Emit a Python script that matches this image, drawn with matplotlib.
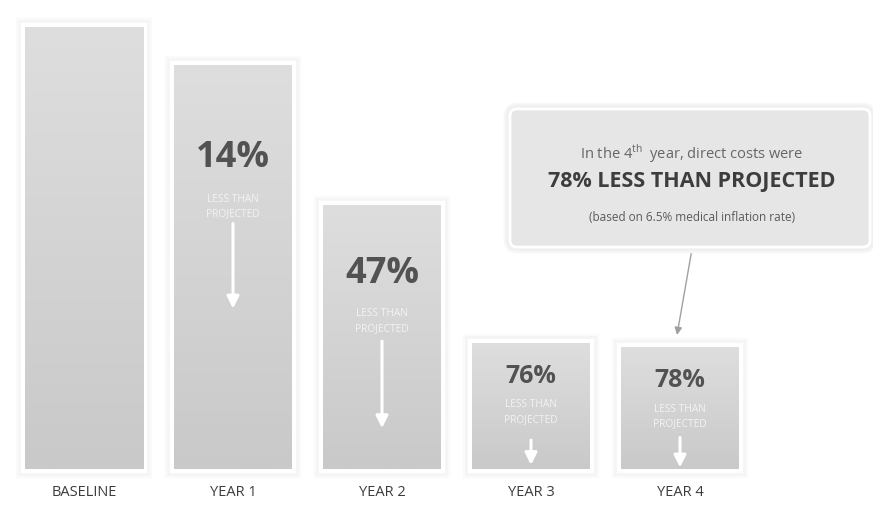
import numpy as np
import matplotlib.pyplot as plt
import matplotlib.patheffects as pe
from matplotlib.colors import LinearSegmentedColormap
from matplotlib.patches import FancyBboxPatch
from matplotlib.transforms import IdentityTransform

plt.rcParams['font.family'] = ['Open Sans', 'DejaVu Sans']
plt.rcParams['mathtext.fontset'] = 'custom'
plt.rcParams['mathtext.rm'] = 'Open Sans'

# direct cost relative to baseline, and the reduction vs projected cost
categories = ["BASELINE", "YEAR 1", "YEAR 2", "YEAR 3", "YEAR 4"]
cost_index = [1.00, 0.915, 0.597, 0.285, 0.275]
pct_less = [None, 14, 47, 76, 78]

# in-bar layout, pixels below each bar top: percent, sub label, arrow start, arrow tip
pct_drop = [None, 92, 68, 32, 32]
sub_drop = [None, 141, 115, 68, 68]
arrow_top = [None, 159, 136, 97, 90]
arrow_tip = [None, 244, 223, 122, 120]
pct_size = [None, 26, 26, 18, 18]

W, H = 873, 506
PX_X = 149.0   # pixels per category
PX_Y = 442.0   # pixels per unit of cost index
X0 = 84        # pixel centre of the first bar

fig = plt.figure(figsize=(W / 100, H / 100), dpi=100)
ax = fig.add_axes([0, 0, 1, 1])
ax.axis('off')

x = np.arange(len(categories))
bars = ax.bar(x, cost_index, width=118 / PX_X, color='#d2d2d2', zorder=2)

# soft glow: several faint strokes, white band closest to the bar
glow = [pe.Stroke(linewidth=13, foreground='#fafafa'),
        pe.Stroke(linewidth=10, foreground='#f5f5f5'),
        pe.Stroke(linewidth=6, foreground='white'),
        pe.Normal()]

grad = np.linspace(0, 1, 256).reshape(-1, 1)
cmap = LinearSegmentedColormap.from_list('bar', ['#c9c9c9', '#dedede'])
for rect in bars:
    rect.set_path_effects(glow)
    x0, w, h = rect.get_x(), rect.get_width(), rect.get_height()
    im = ax.imshow(grad, extent=[x0, x0 + w, 0, h], origin='lower',
                   cmap=cmap, aspect='auto', zorder=3)
    im.set_clip_path(rect)

for i, (xi, h) in enumerate(zip(x, cost_index)):
    ax.annotate(categories[i], xy=(xi, 0), xytext=(0, -23), textcoords='offset pixels',
                ha='center', va='center', fontsize=10.5, color='#3c3c3c')
    if pct_less[i] is None:
        continue
    ax.annotate(f"{pct_less[i]}%", xy=(xi, h), xytext=(0, -pct_drop[i]),
                textcoords='offset pixels', ha='center', va='center',
                fontsize=pct_size[i], fontweight='bold', color='#525252', zorder=4)
    ax.annotate("LESS THAN\nPROJECTED", xy=(xi, h), xytext=(0, -sub_drop[i]),
                textcoords='offset pixels', ha='center', va='center',
                fontsize=7.3, linespacing=1.45, color='#f3f3f3', zorder=4)
    ax.annotate('', xy=(xi, h - arrow_tip[i] / PX_Y), xytext=(xi, h - arrow_top[i] / PX_Y),
                arrowprops=dict(arrowstyle='-|>', lw=2.2, color='white',
                                mutation_scale=18, shrinkA=0, shrinkB=0), zorder=4)

ax.set_xlim(-X0 / PX_X, (W - X0) / PX_X)
ax.set_ylim(-36 / PX_Y, (H - 36) / PX_Y)

# callout box for year 4
box = FancyBboxPatch((510, H - 248), 360, 138, boxstyle='round,pad=0,rounding_size=7',
                     transform=IdentityTransform(), facecolor='#e6e6e6',
                     edgecolor='white', lw=2, zorder=5)
box.set_path_effects([pe.Stroke(linewidth=9, foreground='#f7f7f7'),
                      pe.Stroke(linewidth=6, foreground='#f0f0f0'),
                      pe.Normal()])
fig.patches.append(box)

fig.text(692 / W, 1 - 154 / H, r"In the 4$^{\rm th}$  year, direct costs were",
         ha='center', va='center', fontsize=10.5, color='#666666', zorder=6)
fig.text(692 / W, 1 - 182 / H, "78% LESS THAN PROJECTED",
         ha='center', va='center', fontsize=15.5, fontweight='bold', color='#3d3d3d', zorder=6)
fig.text(692 / W, 1 - 218 / H, "(based on 6.5% medical inflation rate)",
         ha='center', va='center', fontsize=8.5, color='#5a5a5a', zorder=6)

ax.annotate('', xy=(677, H - 336), xytext=(692, H - 250), xycoords='figure pixels',
            textcoords='figure pixels',
            arrowprops=dict(arrowstyle='-|>', lw=1, color='#a0a0a0',
                            mutation_scale=11, shrinkA=0, shrinkB=0))

fig.savefig('out.png', dpi=100, facecolor='white')
